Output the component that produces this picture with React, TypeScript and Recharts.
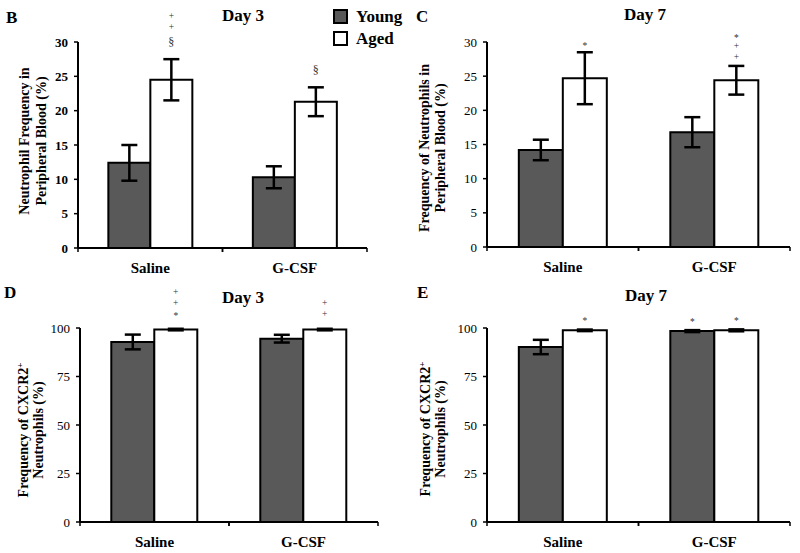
import React from "react";
import { BarChart, Bar, XAxis, YAxis, ErrorBar, LabelList } from "recharts";

const FONT = '"Liberation Serif", "Times New Roman", Times, serif';

const categories = ["Saline", "G-CSF"];

// Panel B – Day 3, neutrophil frequency in peripheral blood (%)
const bYoung = [12.4, 10.3];
const bYoungErr = [2.6, 1.6];
const bAged = [24.5, 21.3];
const bAgedErr = [3.0, 2.1];
const bYoungMarks: string[][] = [[], []];
const bAgedMarks: string[][] = [["§", "+", "+"], ["§"]];
const bTicks = [0, 5, 10, 15, 20, 25, 30];

// Panel C – Day 7, neutrophil frequency in peripheral blood (%)
const cYoung = [14.2, 16.8];
const cYoungErr = [1.5, 2.2];
const cAged = [24.7, 24.4];
const cAgedErr = [3.8, 2.1];
const cYoungMarks: string[][] = [[], []];
const cAgedMarks: string[][] = [["*"], ["+", "+", "*"]];
const cTicks = [0, 5, 10, 15, 20, 25, 30];

// Panel D – Day 3, CXCR2+ neutrophils (%)
const dYoung = [92.8, 94.5];
const dYoungErr = [3.8, 2.0];
const dAged = [99.2, 99.2];
const dAgedErr = [0.4, 0.4];
const dYoungMarks: string[][] = [[], []];
const dAgedMarks: string[][] = [["*", "+", "+"], ["+", "+"]];
const dTicks = [0, 25, 50, 75, 100];

// Panel E – Day 7, CXCR2+ neutrophils (%)
const eYoung = [90.2, 98.4];
const eYoungErr = [3.7, 0.5];
const eAged = [98.8, 98.8];
const eAgedErr = [0.4, 0.5];
const eYoungMarks: string[][] = [[], ["*"]];
const eAgedMarks: string[][] = [["*"], ["*"]];
const eTicks = [0, 25, 50, 75, 100];

const legendLabels = ["Young", "Aged"];

const YOUNG_FILL = "#595959";

const MARK_FS = 9.5;
const MARK_STEP: Record<string, number> = { "+": 10.8, "*": 11, "§": 19 };
const MARK_BASE: Record<string, number> = { "+": 3.5, "*": 6, "§": 4 };

function makeMarks(vals: number[], errs: number[], marks: string[][], gap: number) {
  return (props: any) => {
    const vb = props.viewBox || {};
    const x = props.x ?? vb.x;
    const y = props.y ?? vb.y;
    const w = props.width ?? vb.width;
    const h = props.height ?? vb.height;
    const i = props.index;
    const list = marks[i] || [];
    if (!list.length || vals[i] === undefined) return null;
    const pxPer = h / vals[i];
    const errTop = y - errs[i] * pxPer;
    const cx = x + w / 2;
    let cursor = errTop - gap;
    const ys = list.map((s) => {
      const step = MARK_STEP[s] || 10;
      const center = cursor - step / 2;
      cursor -= step;
      return center + (MARK_BASE[s] || 4);
    });
    return (
      <text textAnchor="middle" fontFamily={FONT} fontSize={MARK_FS} fill="#333">
        {list.map((s, k) => (
          <tspan key={k} x={cx} y={ys[k]} fontSize={s === "§" ? 12 : MARK_FS}>
            {s}
          </tspan>
        ))}
      </text>
    );
  };
}

function makeXTick(bw: number) {
  return (props: any) => {
    const { x, y, payload } = props;
    return (
      <g>
        <line x1={x - bw / 2} y1={y} x2={x - bw / 2} y2={y + 4} stroke="#000" strokeWidth={1.5} />
        <line x1={x + bw / 2} y1={y} x2={x + bw / 2} y2={y + 4} stroke="#000" strokeWidth={1.5} />
        <text x={x} y={y + 25} textAnchor="middle" fontFamily={FONT} fontWeight="bold" fontSize={15} fill="#000">
          {payload.value}
        </text>
      </g>
    );
  };
}

type PanelCfg = {
  left: number;
  top: number;
  width: number;
  height: number;
  margin: { top: number; right: number; bottom: number; left: number };
  yWidth: number;
  domain: [number, number];
  ticks: number[];
  tickBold: boolean;
  young: number[];
  youngErr: number[];
  aged: number[];
  agedErr: number[];
  youngMarks: string[][];
  agedMarks: string[][];
  gap: number;
  letter: string;
  letterX: number;
  letterY: number;
  title: string;
  titleX: number;
  titleY: number;
  yLine1: React.ReactNode;
  yLine2: string;
  yLine1X: number;
  yLine2X: number;
  yCenter: number;
};

function Panel(cfg: PanelCfg) {
  const data = categories.map((c, i) => ({
    cat: c,
    young: cfg.young[i],
    youngErr: cfg.youngErr[i],
    aged: cfg.aged[i],
    agedErr: cfg.agedErr[i],
  }));
  const bw = (cfg.width - cfg.margin.left - cfg.margin.right - cfg.yWidth) / 2;
  const axisStyle = { stroke: "#000", strokeWidth: 2 };
  return (
    <div style={{ position: "absolute", left: cfg.left, top: cfg.top, width: cfg.width, height: cfg.height }}>
      <BarChart
        width={cfg.width}
        height={cfg.height}
        data={data}
        margin={cfg.margin}
        barCategoryGap="21%"
        barGap={0}
      >
        <XAxis
          dataKey="cat"
          height={30}
          interval={0}
          tickLine={false}
          tickSize={0}
          tickMargin={0}
          axisLine={axisStyle}
          tick={makeXTick(bw)}
        />
        <YAxis
          width={cfg.yWidth}
          domain={cfg.domain}
          ticks={cfg.ticks}
          interval={0}
          allowDataOverflow
          tickSize={4}
          tickMargin={6}
          axisLine={axisStyle}
          tickLine={{ stroke: "#000", strokeWidth: 1.5 }}
          tick={{ fontFamily: FONT, fontSize: 13, fontWeight: cfg.tickBold ? "bold" : "normal", fill: "#000" }}
        />
        <Bar dataKey="young" fill={YOUNG_FILL} stroke="#000" strokeWidth={2} isAnimationActive={false}>
          <ErrorBar dataKey="youngErr" width={8} strokeWidth={2.5} stroke="#000" />
          <LabelList dataKey="young" content={makeMarks(cfg.young, cfg.youngErr, cfg.youngMarks, cfg.gap)} />
        </Bar>
        <Bar dataKey="aged" fill="#fff" stroke="#000" strokeWidth={2} isAnimationActive={false}>
          <ErrorBar dataKey="agedErr" width={8} strokeWidth={2.5} stroke="#000" />
          <LabelList dataKey="aged" content={makeMarks(cfg.aged, cfg.agedErr, cfg.agedMarks, cfg.gap)} />
        </Bar>
      </BarChart>
      <svg
        width={cfg.width}
        height={cfg.height}
        style={{ position: "absolute", left: 0, top: 0, pointerEvents: "none" }}
      >
        <text x={cfg.letterX} y={cfg.letterY} fontFamily={FONT} fontWeight="bold" fontSize={17} fill="#000">
          {cfg.letter}
        </text>
        <text x={cfg.titleX} y={cfg.titleY} textAnchor="middle" fontFamily={FONT} fontWeight="bold" fontSize={17} fill="#000">
          {cfg.title}
        </text>
        <text
          x={cfg.yLine1X}
          y={cfg.yCenter}
          textAnchor="middle"
          transform={`rotate(-90, ${cfg.yLine1X}, ${cfg.yCenter})`}
          fontFamily={FONT}
          fontWeight="bold"
          fontSize={14}
          fill="#000"
        >
          {cfg.yLine1}
        </text>
        <text
          x={cfg.yLine2X}
          y={cfg.yCenter}
          textAnchor="middle"
          transform={`rotate(-90, ${cfg.yLine2X}, ${cfg.yCenter})`}
          fontFamily={FONT}
          fontWeight="bold"
          fontSize={14}
          fill="#000"
        >
          {cfg.yLine2}
        </text>
      </svg>
    </div>
  );
}

const cxcrLine = (
  <>
    Frequency of CXCR2
    <tspan fontSize={9} dy={-5}>+</tspan>
  </>
);

export default function App() {
  return (
    <div style={{ position: "absolute", left: 0, top: 0, width: 800, height: 553, background: "#fff", overflow: "hidden" }}>
      <Panel
        left={0}
        top={0}
        width={400}
        height={280}
        margin={{ top: 42, right: 33, bottom: 2, left: 0 }}
        yWidth={78}
        domain={[0, 30]}
        ticks={bTicks}
        tickBold={true}
        young={bYoung}
        youngErr={bYoungErr}
        aged={bAged}
        agedErr={bAgedErr}
        youngMarks={bYoungMarks}
        agedMarks={bAgedMarks}
        gap={8}
        letter="B"
        letterX={6}
        letterY={23}
        title="Day 3"
        titleX={243}
        titleY={21}
        yLine1="Neutrophil Frequency in"
        yLine2="Peripheral Blood (%)"
        yLine1X={29}
        yLine2X={46}
        yCenter={141}
      />
      <Panel
        left={400}
        top={0}
        width={400}
        height={280}
        margin={{ top: 42, right: 10, bottom: 3, left: 0 }}
        yWidth={87}
        domain={[0, 30]}
        ticks={cTicks}
        tickBold={false}
        young={cYoung}
        youngErr={cYoungErr}
        aged={cAged}
        agedErr={cAgedErr}
        youngMarks={cYoungMarks}
        agedMarks={cAgedMarks}
        gap={4}
        letter="C"
        letterX={16}
        letterY={22}
        title="Day 7"
        titleX={245}
        titleY={20}
        yLine1="Frequency of Neutrophils in"
        yLine2="Peripheral Blood (%)"
        yLine1X={29}
        yLine2X={45}
        yCenter={148}
      />
      <Panel
        left={0}
        top={280}
        width={400}
        height={273}
        margin={{ top: 48, right: 22, bottom: 1, left: 0 }}
        yWidth={80}
        domain={[0, 100]}
        ticks={dTicks}
        tickBold={false}
        young={dYoung}
        youngErr={dYoungErr}
        aged={dAged}
        agedErr={dAgedErr}
        youngMarks={dYoungMarks}
        agedMarks={dAgedMarks}
        gap={10}
        letter="D"
        letterX={4}
        letterY={18}
        title="Day 3"
        titleX={243}
        titleY={23}
        yLine1={cxcrLine}
        yLine2="Neutrophils (%)"
        yLine1X={28}
        yLine2X={43}
        yCenter={150}
      />
      <Panel
        left={400}
        top={280}
        width={400}
        height={273}
        margin={{ top: 48, right: 10, bottom: 1, left: 0 }}
        yWidth={87}
        domain={[0, 100]}
        ticks={eTicks}
        tickBold={false}
        young={eYoung}
        youngErr={eYoungErr}
        aged={eAged}
        agedErr={eAgedErr}
        youngMarks={eYoungMarks}
        agedMarks={eAgedMarks}
        gap={6}
        letter="E"
        letterX={17}
        letterY={18}
        title="Day 7"
        titleX={246}
        titleY={21}
        yLine1={cxcrLine}
        yLine2="Neutrophils (%)"
        yLine1X={30}
        yLine2X={45}
        yCenter={149}
      />
      <svg width={800} height={60} style={{ position: "absolute", left: 0, top: 0, pointerEvents: "none" }}>
        {legendLabels.map((lab, i) => (
          <g key={lab}>
            <rect
              x={334}
              y={10 + i * 22}
              width={13}
              height={13}
              fill={i === 0 ? YOUNG_FILL : "#fff"}
              stroke="#000"
              strokeWidth={2}
            />
            <text x={356} y={22 + i * 22} fontFamily={FONT} fontWeight="bold" fontSize={17} fill="#000">
              {lab}
            </text>
          </g>
        ))}
      </svg>
    </div>
  );
}
